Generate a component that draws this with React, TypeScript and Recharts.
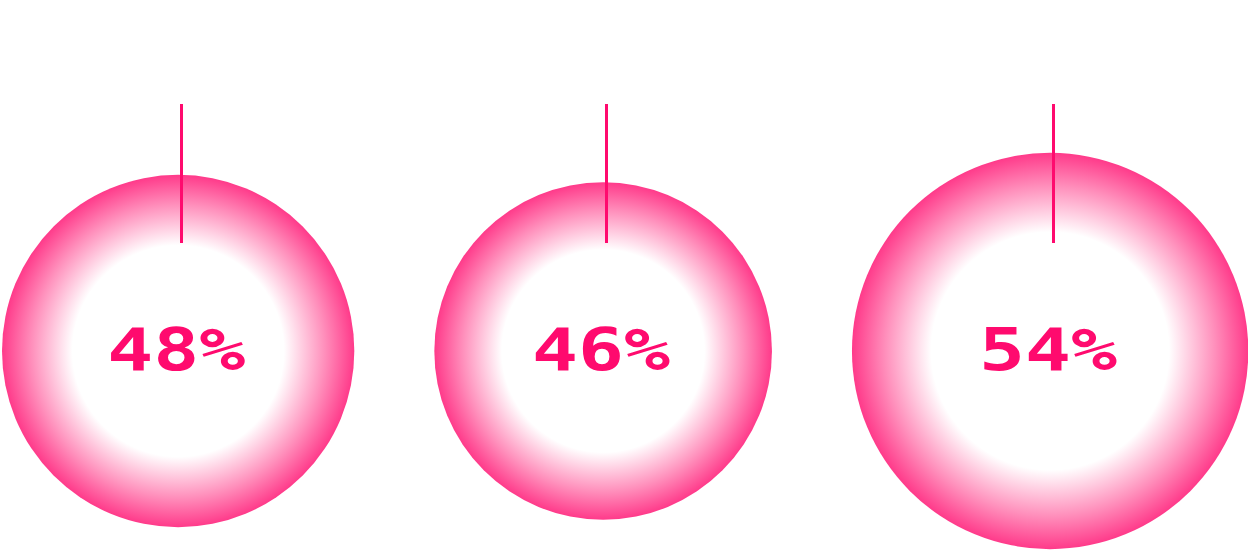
import { Scatter, ScatterChart, XAxis, YAxis, ZAxis } from "recharts";

const labels = ["48%", "46%", "54%"];
const values = [48, 46, 54];

const W = 1248;
const H = 552;
const PX_PER_UNIT = 3.67; // circle radius in px per percentage point
const GAP = 80;
const CENTER_Y = 351;
const PINK = "#ff0a6e";

// circles sit side by side with an even gap between their edges
const data = values.reduce<{ x: number; y: number; value: number; label: string }[]>((acc, v, i) => {
  const r = v * PX_PER_UNIT;
  const prev = acc[i - 1];
  const x = prev ? prev.x + prev.value * PX_PER_UNIT + GAP + r : r + 2;
  acc.push({ x, y: CENTER_Y, value: v, label: labels[i] });
  return acc;
}, []);

function Bubble(props: any) {
  const { cx, cy, size, payload } = props;
  const r = typeof size === "number" ? size : payload.value * PX_PER_UNIT;
  const lx = Math.round(cx) + 3.5;
  return (
    <g>
      <circle cx={cx} cy={cy} r={r} fill="url(#bubbleFill)" />
      <line x1={lx} x2={lx} y1={104} y2={243} stroke={PINK} strokeWidth={3} />
      <text
        x={cx - 2}
        y={cy + 19}
        textAnchor="middle"
        fill={PINK}
        fontFamily="'DejaVu Sans Mono', monospace"
        fontWeight="bold"
        fontSize={58}
        textLength={138}
        lengthAdjust="spacingAndGlyphs"
      >
        {payload.label}
      </text>
    </g>
  );
}

export default function App() {
  return (
    <div style={{ width: W, height: H, background: "#fff" }}>
      <style>{"body{margin:0}"}</style>
      <ScatterChart width={W} height={H} margin={{ top: 0, right: 0, bottom: 0, left: 0 }}>
        <defs>
          <radialGradient id="bubbleFill" cx="50%" cy="50%" r="50%">
            <stop offset="0%" stopColor="#ffffff" />
            <stop offset="60%" stopColor="#ffffff" />
            <stop offset="83%" stopColor="#ff90bc" />
            <stop offset="100%" stopColor="#ff3a8a" />
          </radialGradient>
        </defs>
        <XAxis type="number" dataKey="x" domain={[0, W]} hide />
        <YAxis type="number" dataKey="y" domain={[0, H]} reversed hide />
        <ZAxis type="number" dataKey="value" domain={[0, 100]} range={[0, 100 * PX_PER_UNIT]} />
        <Scatter data={data} shape={Bubble} isAnimationActive={false} />
      </ScatterChart>
    </div>
  );
}
